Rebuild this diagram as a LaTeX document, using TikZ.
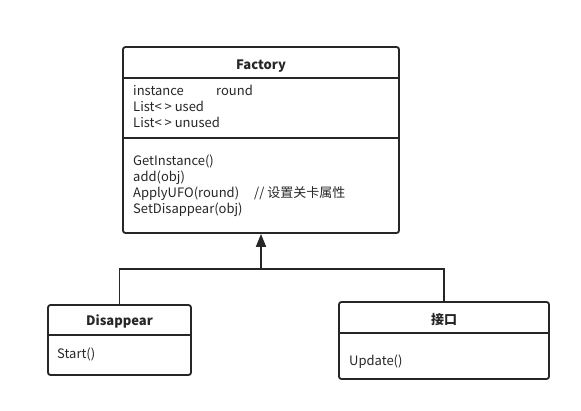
\documentclass[tikz,border=0pt]{standalone}
\usepackage{fontspec}
\setmainfont{Noto Sans CJK SC}
\tikzset{>=latex}
\usetikzlibrary{arrows.meta}
\tikzset{
  classbox/.style={draw=black!85, line width=1.8pt, rounded corners=2.5pt, inner sep=0pt},
  sepline/.style={draw=black!85, line width=1.8pt},
  member/.style={anchor=base west, inner sep=0pt, font=\fontsize{13}{16}\selectfont, text=black!85},
  classname/.style={anchor=base, inner sep=0pt, font=\fontsize{13}{16}\selectfont\bfseries, text=black!85},
  inherit/.style={draw=black!85, line width=1.8pt, -{Triangle[length=13pt,width=10pt]}}
}

\begin{document}
\begin{tikzpicture}[x=1pt,y=-1pt]

% Zone de dessin / drawing area (pixels of the reference)
\useasboundingbox (0,0) rectangle (581,410);

% Classe Factory
\node[classbox, minimum width=276pt, minimum height=186pt] (factory) at (261,140) {};
\draw[sepline] (123,78) -- (399,78);
\draw[sepline] (123,138) -- (399,138);
\node[classname] (factoryname) at (261,69) {Factory};
\node[member] (attinstance) at (133,95) {instance};
\node[member] (attround) at (216,95) {round};
\node[member] (attused) at (133,111) {List< > used};
\node[member] (attunused) at (133,127) {List< > unused};
\node[member] (opget) at (133,165) {GetInstance()};
\node[member] (opadd) at (133,181) {add(obj)};
\node[member] (opapply) at (133,197) {ApplyUFO(round)};
\node[member] (opcomment) at (254,197) {// 设置关卡属性};
\node[member] (opset) at (133,213) {SetDisappear(obj)};

% Classe Disappear
\node[classbox, minimum width=143pt, minimum height=70pt] (disappear) at (119.5,340) {};
\draw[sepline] (48,335) -- (191,335);
\node[classname] (disappearname) at (119.5,325) {Disappear};
\node[member] (opstart) at (57,358) {Start()};

% Classe 接口
\node[classbox, minimum width=210pt, minimum height=77pt] (iface) at (444,340.5) {};
\draw[sepline] (339,333) -- (549,333);
\node[classname] (ifacename) at (444,324) {接口};
\node[member] (opupdate) at (349,365) {Update()};

% Héritage / inheritance
\coordinate (junction) at (261,269);
\draw[sepline] (disappear.north) |- (junction);
\draw[sepline] (iface.north) |- (junction);
\draw[inherit] (junction) -- (factory.south);

\end{tikzpicture}
\end{document}
